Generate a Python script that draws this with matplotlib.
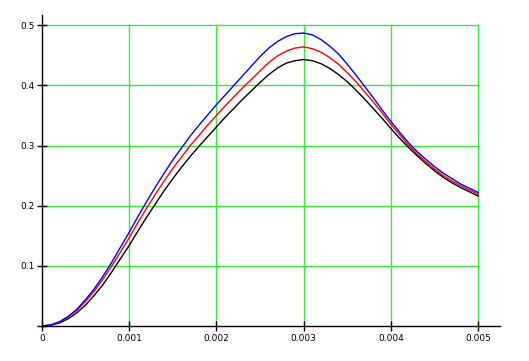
import numpy as np
import matplotlib
matplotlib.use('Agg')
import matplotlib.pyplot as plt

x = [i * 0.0001 for i in range(51)]

blue = [0, 0.002, 0.007, 0.016, 0.028, 0.044, 0.062, 0.083, 0.106, 0.131,
        0.156, 0.182, 0.207, 0.231, 0.254, 0.276, 0.296, 0.316, 0.334, 0.351,
        0.368, 0.384, 0.400, 0.416, 0.432, 0.448, 0.462, 0.473, 0.481, 0.486,
        0.487, 0.484, 0.476, 0.465, 0.452, 0.435, 0.417, 0.398, 0.379, 0.359,
        0.340, 0.322, 0.305, 0.290, 0.277, 0.265, 0.254, 0.245, 0.236, 0.229,
        0.222]
red = [0, 0.0015, 0.006, 0.015, 0.026, 0.041, 0.058, 0.078, 0.100, 0.123,
       0.147, 0.172, 0.196, 0.219, 0.241, 0.262, 0.281, 0.300, 0.317, 0.334,
       0.350, 0.366, 0.381, 0.396, 0.410, 0.424, 0.438, 0.449, 0.457, 0.462,
       0.464, 0.461, 0.455, 0.446, 0.435, 0.421, 0.406, 0.389, 0.372, 0.354,
       0.335, 0.318, 0.301, 0.286, 0.273, 0.261, 0.250, 0.241, 0.233, 0.226,
       0.219]
black = [0, 0.0012, 0.005, 0.012, 0.022, 0.035, 0.051, 0.069, 0.090, 0.112,
         0.134, 0.158, 0.181, 0.203, 0.225, 0.245, 0.264, 0.282, 0.299, 0.315,
         0.331, 0.347, 0.362, 0.377, 0.391, 0.405, 0.418, 0.429, 0.437, 0.441,
         0.443, 0.441, 0.436, 0.428, 0.418, 0.406, 0.392, 0.377, 0.361, 0.345,
         0.328, 0.312, 0.297, 0.283, 0.270, 0.258, 0.247, 0.238, 0.230, 0.223,
         0.216]

xticks = [0, 0.001, 0.002, 0.003, 0.004, 0.005]
xlabels = ['0', '0.001', '0.002', '0.003', '0.004', '0.005']
yticks = [0, 0.1, 0.2, 0.3, 0.4, 0.5]
ylabels = ['', '0.1', '0.2', '0.3', '0.4', '0.5']

fig = plt.figure(figsize=(5.29, 3.61), dpi=100)
ax = fig.add_axes([42/529, 35/361, 458/529, 311/361])

ax.plot(x, black, color='black', lw=1.0, zorder=3)
ax.plot(x, red, color='#ff0000', lw=1.0, zorder=3)
ax.plot(x, blue, color='#0000ff', lw=1.0, zorder=3)

# green grid only inside the data box
for t in xticks[1:]:
    ax.plot([t, t], [0, 0.5], color='#3be83b', lw=1.0, zorder=1)
for t in yticks[1:]:
    ax.plot([0, 0.005], [t, t], color='#3be83b', lw=1.0, zorder=1)

ax.set_xlim(0, 0.00525)
ax.set_ylim(0, 0.517)
ax.set_xticks(xticks)
ax.set_xticklabels(xlabels)
ax.set_yticks(yticks)
ax.set_yticklabels(ylabels)
ax.tick_params(direction='inout', length=7, width=1, labelsize=6.5, pad=2)
ax.spines['top'].set_visible(False)
ax.spines['right'].set_visible(False)
ax.spines['left'].set_linewidth(1)
ax.spines['bottom'].set_linewidth(1)

fig.savefig('out.png', dpi=100)
